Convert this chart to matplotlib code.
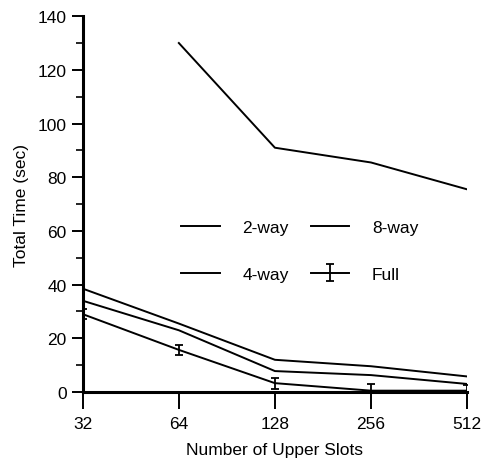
import numpy as np
import matplotlib.pyplot as plt

slots = [32, 64, 128, 256, 512]
x_pos = [0, 1, 2, 3, 4]

two_way = [130, 91, 85.5, 75.5]       # no value at 32 (off scale)
four_way = [38.5, 25.5, 12, 9.6, 5.8]
eight_way = [34, 23, 7.8, 6.3, 3]
full = [29, 15.7, 3.3, 0.5, 0.5]
full_err = [1.8, 1.8, 2.0, 2.5, 2.0]

plt.rcParams['font.family'] = ['Liberation Sans', 'DejaVu Sans']
plt.rcParams['font.size'] = 12.5

fig = plt.figure(figsize=(4.84, 4.64), dpi=100)
ax = fig.add_axes([0.171, 0.153, 0.794, 0.81])

lw = 1.4
ax.plot(x_pos[1:], two_way, color='black', lw=lw, label='2-way')
ax.plot(x_pos, four_way, color='black', lw=lw, label='4-way')
ax.plot(x_pos, eight_way, color='black', lw=lw, label='8-way')
ax.errorbar(x_pos, full, yerr=full_err, color='black', lw=lw,
            capsize=3, elinewidth=1.3, capthick=1.3, label='Full')

ax.set_xlim(0, 4)
ax.set_ylim(0, 140)
ax.set_xticks(x_pos)
ax.set_xticklabels([str(s) for s in slots])
ax.set_yticks(np.arange(0, 141, 20))
ax.set_yticks(np.arange(10, 140, 20), minor=True)

for s in ['top', 'right']:
    ax.spines[s].set_visible(False)
for s in ['left', 'bottom']:
    ax.spines[s].set_linewidth(2.2)
ax.tick_params(axis='both', which='major', length=8, width=1.4, direction='out')
ax.tick_params(axis='y', which='minor', length=5, width=1.2)
ax.tick_params(axis='x', which='major', length=12, pad=5)

ax.set_xlabel('Number of Upper Slots', labelpad=8)
ax.set_ylabel('Total Time (sec)', labelpad=6)

ax.legend(ncol=2, frameon=False, loc='center', bbox_to_anchor=(0.565, 0.375),
          handlelength=2.2, handletextpad=1.3, columnspacing=1.3,
          labelspacing=1.8)

fig.savefig('out.png', dpi=100)
